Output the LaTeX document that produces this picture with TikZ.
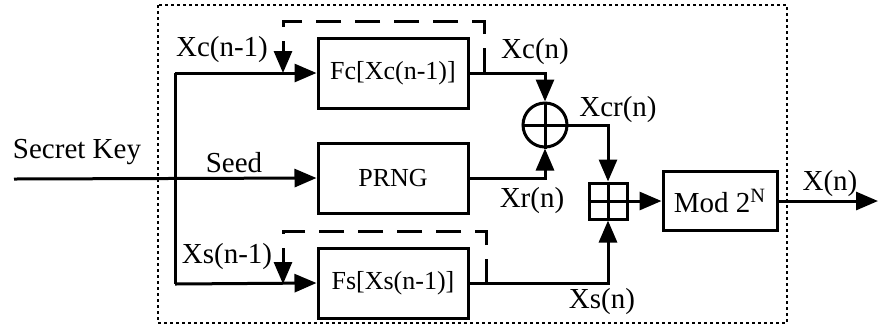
\documentclass[tikz,border=0pt]{standalone}
\usepackage{fontspec}
\setmainfont{Liberation Serif}
\usetikzlibrary{arrows.meta,positioning}

\begin{document}
\begin{tikzpicture}[x=0.5pt, y=-0.5pt, line width=1.5pt,
  font=\fontsize{14.5}{16}\selectfont,
  >={Triangle[length=11pt,width=9pt]},
  blk/.style={draw, rectangle, minimum width=75pt, minimum height=35pt, inner sep=0pt,
    font=\fontsize{13}{15}\selectfont},
  fb/.style={dash pattern=on 12.5pt off 7pt},
  lbl/.style={inner sep=0pt}]
  \useasboundingbox (0,0) rectangle (878,334);
  % frame
  \draw[line width=1pt, dash pattern=on 1.5pt off 1.5pt] (158,5) rectangle (787,323);
  % blocks
  \node[blk] (fc) at (393,73) {Fc[Xc(n-1)]};
  \node[blk] (prng) at (393,178) {PRNG};
  \node[blk] (fs) at (393,283) {Fs[Xs(n-1)]};
  \node[draw, circle, minimum size=22pt, inner sep=0pt] (xor) at (545,125) {};
  \draw (xor.north) -- (xor.south) (xor.west) -- (xor.east);
  \node[draw, minimum width=19pt, minimum height=18pt, inner sep=0pt] (add) at (608,201) {};
  \draw (add.north) -- (add.south) (add.west) -- (add.east);
  \node[blk, minimum width=57pt, minimum height=29.5pt, font=\fontsize{14.5}{16}\selectfont]
    (mod) at (720,201) {Mod 2\textsuperscript{N}};
  % points
  \coordinate (key) at (14,179);
  \coordinate (ctop) at (175,73);
  \coordinate (cbot) at (175,284);
  \coordinate (out) at (878,201);
  \coordinate (fctap) at (484,73);
  \coordinate (fcin) at (283,73);
  \coordinate (fstap) at (486,284);
  \coordinate (fsin) at (283,284);
  % connectors
  \draw[->] (key) -- (prng.west);
  \draw (ctop) -- (cbot);
  \draw[->] (ctop) -- (fc.west);
  \draw[->] (cbot) -- (fs.west);
  \draw[->] (fc.east) -| (xor.north);
  \draw[->] (prng.east) -| (xor.south);
  \draw[->] (xor.east) -| (add.north);
  \draw[->] (fs.east) -| (add.south);
  \draw[->] (add.east) -- (mod.west);
  \draw[->] (mod.east) -- (out);
  % feedback
  \draw[fb, ->] (fctap) -- ++(0,-52) -| (fcin);
  \draw[fb, ->] (fstap) -- ++(0,-53) -| (fsin);
  % labels
  \node[lbl] (lkey) at (77,152) {Secret Key};
  \node[lbl] (lseed) at (234,163) {Seed};
  \node[lbl] (lxcp) at (222,50) {Xc(n-1)};
  \node[lbl] (lxc) at (535,52) {Xc(n)};
  \node[lbl] (lxcr) at (618,110) {Xcr(n)};
  \node[lbl] (lxr) at (532,201) {Xr(n)};
  \node[lbl] (lxsp) at (227,257) {Xs(n-1)};
  \node[lbl] (lxs) at (602,302) {Xs(n)};
  \node[lbl] (lx) at (830,184) {X(n)};
\end{tikzpicture}
\end{document}
